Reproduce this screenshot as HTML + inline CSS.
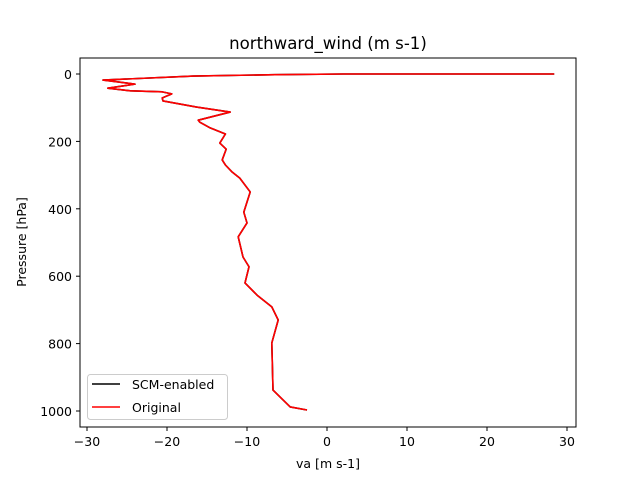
<!DOCTYPE html>
<html><head><meta charset="utf-8"><style>body{margin:0;background:#fff}svg{display:block;font-family:"DejaVu Sans","Liberation Sans",sans-serif}</style></head>
<body>
<svg id="chart" width="640" height="480">
<rect x="0" y="0" width="640" height="480" fill="#fff"/>
<text x="328" y="49" text-anchor="middle" font-size="16.6">northward_wind (m s-1)</text>
<g id="ticks"></g>
<g id="series"></g>
<rect x="80" y="58" width="496" height="369" fill="none" stroke="#000" stroke-width="1"/>
<text x="328" y="468" text-anchor="middle" font-size="12.5">va [m s-1]</text>
<text x="26" y="242" text-anchor="middle" font-size="12.5" transform="rotate(-90 26 242)">Pressure [hPa]</text>
<g>
<rect x="87.5" y="374.5" width="140" height="45" rx="3" fill="#fff" fill-opacity="0.8" stroke="#ccc"/>
<line x1="92" y1="384" x2="120" y2="384" stroke="#000" stroke-width="1.5"/>
<text x="132" y="389" font-size="12.5">SCM-enabled</text>
<line x1="92" y1="407" x2="120" y2="407" stroke="#f00" stroke-width="1.5"/>
<text x="132" y="412" font-size="12.5">Original</text>
</g>
</svg>
<script>
const pressure = [0,0,2,6,18,30,42,50,53,59,71,80,98,113,137,143,160,178,205,223,255,270,290,309,350,410,442,483,543,572,620,656,691,730,798,938,988,997];
const vaOriginal = [28.4,2,-6.5,-16.7,-28,-24,-27.4,-24.6,-20.6,-19.4,-20.6,-20.5,-16.3,-12.1,-16.1,-15.9,-14.6,-12.7,-13.4,-12.6,-13.1,-12.7,-11.9,-10.9,-9.6,-10.4,-10,-11.1,-10.5,-9.75,-10.25,-8.75,-6.9,-6.1,-6.9,-6.75,-4.6,-2.5];
const vaScm = vaOriginal.slice();
const xTicks = [-30,-20,-10,0,10,20,30];
const yTicks = [0,200,400,600,800,1000];
const NS='http://www.w3.org/2000/svg';
function sx(v){return 327+8*v;}
function sy(p){return 74+0.337*p;}
const tg=document.getElementById('ticks');
xTicks.forEach(t=>{
  const l=document.createElementNS(NS,'line');
  l.setAttribute('x1',sx(t));l.setAttribute('x2',sx(t));l.setAttribute('y1',427);l.setAttribute('y2',431);l.setAttribute('stroke','#000');
  
  
  tg.appendChild(l);
  const tx=document.createElementNS(NS,'text');
  tx.setAttribute('x',sx(t));tx.setAttribute('y',446);tx.setAttribute('text-anchor','middle');tx.setAttribute('font-size','12.5');
  tx.textContent=t<0?'\u2212'+(-t):t;
  
  
  tg.appendChild(tx);
});
yTicks.forEach(t=>{
  const l=document.createElementNS(NS,'line');
  l.setAttribute('x1',76);l.setAttribute('x2',80);l.setAttribute('y1',sy(t));l.setAttribute('y2',sy(t));l.setAttribute('stroke','#000');
  
  
  tg.appendChild(l);
  const tx=document.createElementNS(NS,'text');
  tx.setAttribute('x',72);tx.setAttribute('y',sy(t)+5);tx.setAttribute('text-anchor','end');tx.setAttribute('font-size','12.5');
  tx.textContent=t;
  
  
  tg.appendChild(tx);
});
const sg=document.getElementById('series');
function draw(vals,color,name){
  const pl=document.createElementNS(NS,'polyline');
  pl.setAttribute('points',vals.map((v,i)=>sx(v)+','+sy(pressure[i])).join(' '));
  pl.setAttribute('fill','none');pl.setAttribute('stroke',color);pl.setAttribute('stroke-width','1.6');pl.setAttribute('stroke-linejoin','round');
  
  
  sg.appendChild(pl);
}
draw(vaScm,'#000','line-scm-enabled');
draw(vaOriginal,'#f00','line-original');
</script>
</body></html>
